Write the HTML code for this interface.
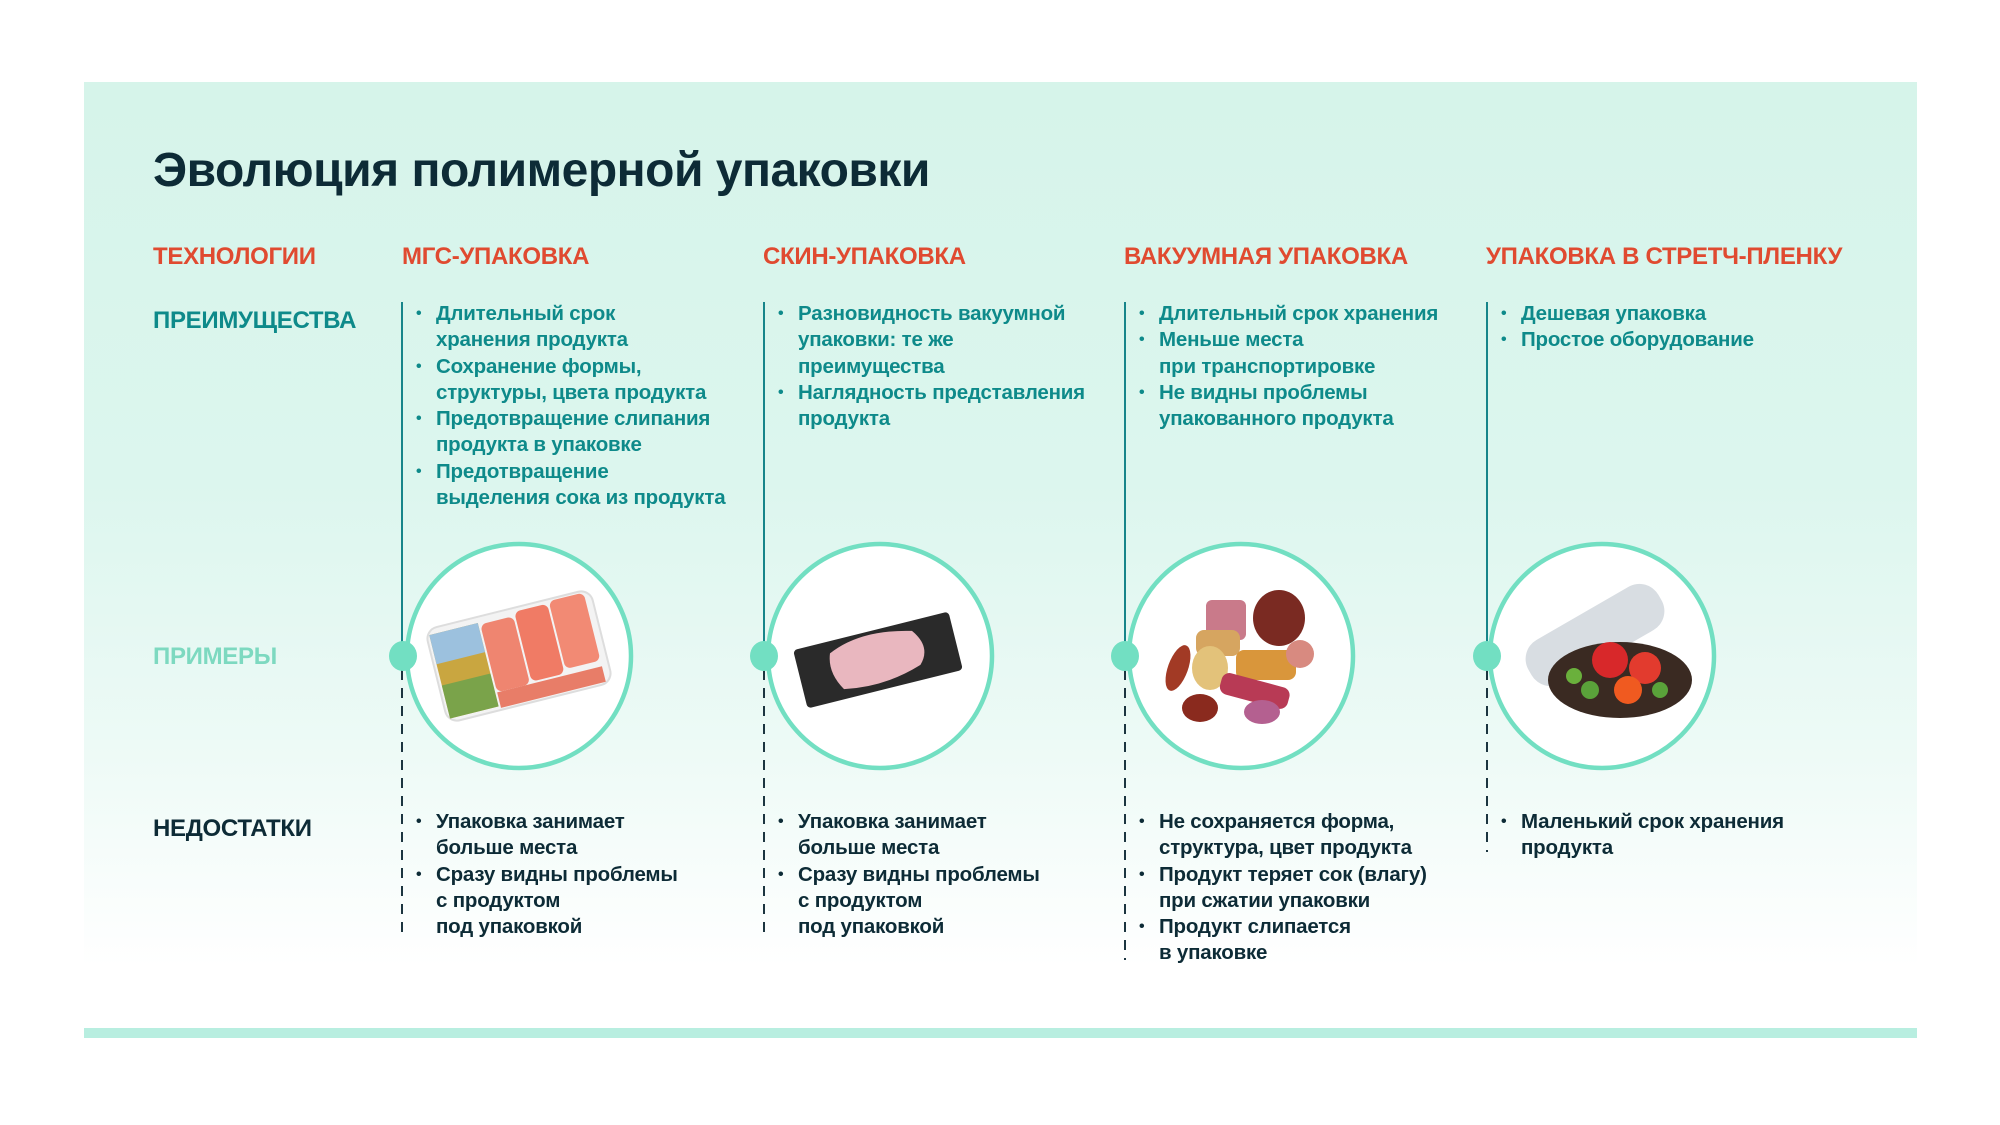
<!DOCTYPE html>
<html><head><meta charset="utf-8">
<style>
html,body{margin:0;padding:0;background:#fff;}
body{width:2000px;height:1125px;position:relative;overflow:hidden;font-family:"Liberation Sans",sans-serif;font-weight:bold;}
.panel{position:absolute;left:84px;top:82px;width:1833px;height:885px;background:linear-gradient(#d6f4ea 0%,#dcf6ee 45%,#edfaf6 75%,#ffffff 100%);}
.bar{position:absolute;left:84px;top:1028px;width:1833px;height:10px;background:#b8eee0;}
.t{position:absolute;white-space:nowrap;}
h1{position:absolute;left:153px;top:143px;margin:0;font-size:48px;color:#0d2b36;letter-spacing:-0.5px;}
.hd{font-size:24px;color:#e04a30;top:243px;letter-spacing:-0.3px;}
.lb{font-size:24px;left:153px;letter-spacing:-0.3px;}
ul{position:absolute;margin:0;padding:0;list-style:none;font-size:20.5px;line-height:26.3px;white-space:nowrap;letter-spacing:-0.2px;}
ul li{position:relative;padding-left:34px;}
ul li:before{content:"•";position:absolute;left:14px;font-size:16px;}
.adv{top:301px;color:#0e8a8a;}
.dis{top:809px;color:#0d2b36;}
</style></head><body>
<div class="panel"></div>
<div class="bar"></div>
<h1>Эволюция полимерной упаковки</h1>
<div class="t hd" style="left:153px">ТЕХНОЛОГИИ</div>
<div class="t hd" style="left:402px">МГС-УПАКОВКА</div>
<div class="t hd" style="left:763px">СКИН-УПАКОВКА</div>
<div class="t hd" style="left:1124px">ВАКУУМНАЯ УПАКОВКА</div>
<div class="t hd" style="left:1486px">УПАКОВКА В СТРЕТЧ-ПЛЕНКУ</div>
<div class="t lb" style="top:307px;color:#0e8a8a">ПРЕИМУЩЕСТВА</div>
<div class="t lb" style="top:643px;color:#7dd9c0">ПРИМЕРЫ</div>
<div class="t lb" style="top:815px;color:#0d2b36">НЕДОСТАТКИ</div>

<svg width="2000" height="1125" style="position:absolute;left:0;top:0">
<g stroke="#17858a" stroke-width="2">
<line x1="402" y1="302" x2="402" y2="656"/><line x1="764" y1="302" x2="764" y2="656"/>
<line x1="1125" y1="302" x2="1125" y2="656"/><line x1="1487" y1="302" x2="1487" y2="656"/>
</g>
<g stroke="#1c3540" stroke-width="2" stroke-dasharray="10,8">
<line x1="402" y1="670" x2="402" y2="934"/><line x1="764" y1="670" x2="764" y2="934"/>
<line x1="1125" y1="670" x2="1125" y2="960"/><line x1="1487" y1="670" x2="1487" y2="852"/>
</g>
<g fill="#fff" stroke="#72dfc2" stroke-width="4.5">
<circle cx="519" cy="656" r="112"/><circle cx="880" cy="656" r="112"/>
<circle cx="1241" cy="656" r="112"/><circle cx="1602" cy="656" r="112"/>
</g>
<g fill="#72dfc2">
<ellipse cx="403" cy="656" rx="14" ry="15"/><ellipse cx="764" cy="656" rx="14" ry="15"/>
<ellipse cx="1125" cy="656" rx="14" ry="15"/><ellipse cx="1487" cy="656" rx="14" ry="15"/>
</g>
<g transform="translate(519,656) rotate(-14)">
<rect x="-85" y="-48" width="170" height="96" rx="12" fill="#f3f3f3" stroke="#ddd" stroke-width="2"/>
<rect x="-82" y="-42" width="50" height="86" fill="#c9a640"/>
<rect x="-82" y="-42" width="50" height="30" fill="#9cc1de"/>
<rect x="-82" y="10" width="50" height="34" fill="#7aa34a"/>
<rect x="-30" y="-40" width="34" height="70" rx="6" fill="#ef8570"/>
<rect x="6" y="-44" width="34" height="72" rx="6" fill="#f07b65"/>
<rect x="42" y="-46" width="36" height="70" rx="6" fill="#f28a74"/>
<rect x="-30" y="30" width="108" height="16" fill="#e87d68"/>
</g>
<g transform="translate(878,660) rotate(-14)">
<rect x="-80" y="-30" width="160" height="60" rx="4" fill="#2a2a2a"/>
<path d="M-45,-18 Q-10,-34 40,-20 Q55,0 40,15 Q0,28 -40,20 Q-52,0 -45,-18Z" fill="#e9b7bf"/>
</g>
<g>
<rect x="1206" y="600" width="40" height="40" rx="6" fill="#c97a8a"/>
<ellipse cx="1279" cy="618" rx="26" ry="28" fill="#7a2a22"/>
<rect x="1196" y="630" width="44" height="26" rx="8" fill="#d6a560"/>
<ellipse cx="1178" cy="668" rx="10" ry="24" fill="#a23a25" transform="rotate(20 1178 668)"/>
<ellipse cx="1210" cy="668" rx="18" ry="22" fill="#e3c27a"/>
<rect x="1236" y="650" width="60" height="30" rx="8" fill="#d9963b"/>
<rect x="1220" y="680" width="70" height="22" rx="8" fill="#b83a55" transform="rotate(15 1255 690)"/>
<ellipse cx="1200" cy="708" rx="18" ry="14" fill="#8a2a1e"/>
<ellipse cx="1262" cy="712" rx="18" ry="12" fill="#b46090"/>
<ellipse cx="1300" cy="654" rx="14" ry="14" fill="#d88a80"/>
</g>
<g>
<rect x="1520" y="610" width="150" height="50" rx="22" fill="#d8dde2" transform="rotate(-30 1595 635)"/>
<ellipse cx="1620" cy="680" rx="72" ry="38" fill="#3a2a22"/>
<circle cx="1610" cy="660" r="18" fill="#d8282a"/><circle cx="1645" cy="668" r="16" fill="#e23b2e"/>
<circle cx="1628" cy="690" r="14" fill="#f05a20"/><circle cx="1590" cy="690" r="9" fill="#5aa23a"/>
<circle cx="1574" cy="676" r="8" fill="#6ab03c"/><circle cx="1660" cy="690" r="8" fill="#5aa23a"/>
</g>
</svg>

<ul class="adv" style="left:402px">
<li>Длительный срок<br>хранения продукта</li>
<li>Сохранение формы,<br>структуры, цвета продукта</li>
<li>Предотвращение слипания<br>продукта в упаковке</li>
<li>Предотвращение<br>выделения сока из продукта</li>
</ul>
<ul class="adv" style="left:764px">
<li>Разновидность вакуумной<br>упаковки: те же<br>преимущества</li>
<li>Наглядность представления<br>продукта</li>
</ul>
<ul class="adv" style="left:1125px">
<li>Длительный срок хранения</li>
<li>Меньше места<br>при транспортировке</li>
<li>Не видны проблемы<br>упакованного продукта</li>
</ul>
<ul class="adv" style="left:1487px">
<li>Дешевая упаковка</li>
<li>Простое оборудование</li>
</ul>

<ul class="dis" style="left:402px">
<li>Упаковка занимает<br>больше места</li>
<li>Сразу видны проблемы<br>с продуктом<br>под упаковкой</li>
</ul>
<ul class="dis" style="left:764px">
<li>Упаковка занимает<br>больше места</li>
<li>Сразу видны проблемы<br>с продуктом<br>под упаковкой</li>
</ul>
<ul class="dis" style="left:1125px">
<li>Не сохраняется форма,<br>структура, цвет продукта</li>
<li>Продукт теряет сок (влагу)<br>при сжатии упаковки</li>
<li>Продукт слипается<br>в упаковке</li>
</ul>
<ul class="dis" style="left:1487px">
<li>Маленький срок хранения<br>продукта</li>
</ul>
</body></html>
